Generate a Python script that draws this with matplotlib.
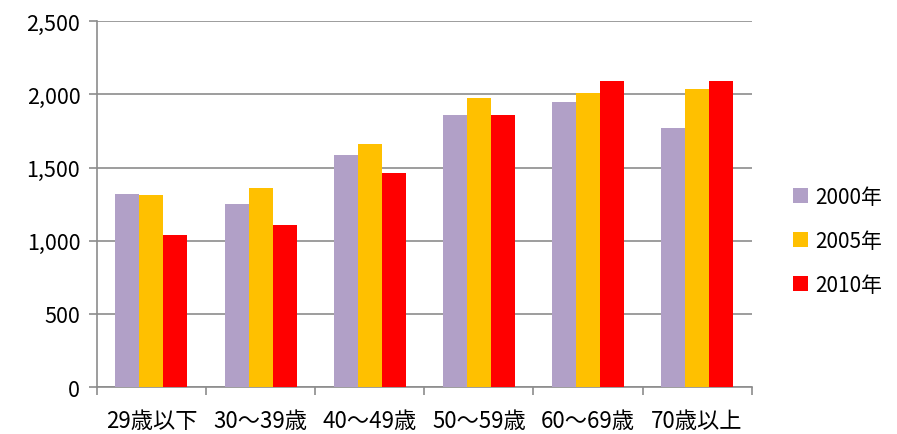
import matplotlib.pyplot as plt
import numpy as np

plt.rcParams['font.family'] = ['Noto Sans CJK JP', 'DejaVu Sans']

# age groups and yearly values
ages = ['29歳以下', '30～39歳', '40～49歳', '50～59歳', '60～69歳', '70歳以上']
years = ['2000年', '2005年', '2010年']
v2000 = [1320, 1250, 1585, 1860, 1947, 1770]
v2005 = [1310, 1362, 1663, 1977, 2008, 2035]
v2010 = [1040, 1105, 1465, 1860, 2090, 2088]
colors = ['#b1a0c7', '#ffc000', '#ff0000']

fig = plt.figure(figsize=(8.97, 4.35), dpi=100)
ax = fig.add_axes([0.108, 0.108, 0.730, 0.841])

x = np.arange(len(ages))
w = 0.22
for i, (vals, lab) in enumerate(zip([v2000, v2005, v2010], years)):
    ax.bar(x + (i - 1) * w, vals, w, color=colors[i], label=lab, zorder=3)

ax.set_xlim(-0.5, len(ages) - 0.5)
ax.set_ylim(0, 2500)
ax.set_yticks(np.arange(0, 2501, 500))
ax.set_yticklabels(['{:,}'.format(v) for v in range(0, 2501, 500)], fontsize=15.5)
ax.yaxis.grid(True, color='#8c8c8c', linewidth=1.2, zorder=0)

# category labels in the middle, ticks on the boundaries
ax.set_xticks(x)
ax.set_xticklabels(ages, fontsize=16)
ax.tick_params(axis='x', length=0, pad=16)
ax.set_xticks(np.arange(-0.5, len(ages), 1), minor=True)
ax.tick_params(axis='x', which='minor', length=6, color='#8c8c8c', width=1.2)
ax.tick_params(axis='y', length=6, color='#8c8c8c', width=1.2, pad=6)

for s in ['top', 'right']:
    ax.spines[s].set_visible(False)
for s in ['left', 'bottom']:
    ax.spines[s].set_color('#8c8c8c')
    ax.spines[s].set_linewidth(1.2)

ax.legend(loc='center left', bbox_to_anchor=(1.035, 0.40), frameon=False,
          fontsize=15, handlelength=0.7, handleheight=0.7, labelspacing=1.05,
          handletextpad=0.35)

fig.savefig('out.png', dpi=100)
